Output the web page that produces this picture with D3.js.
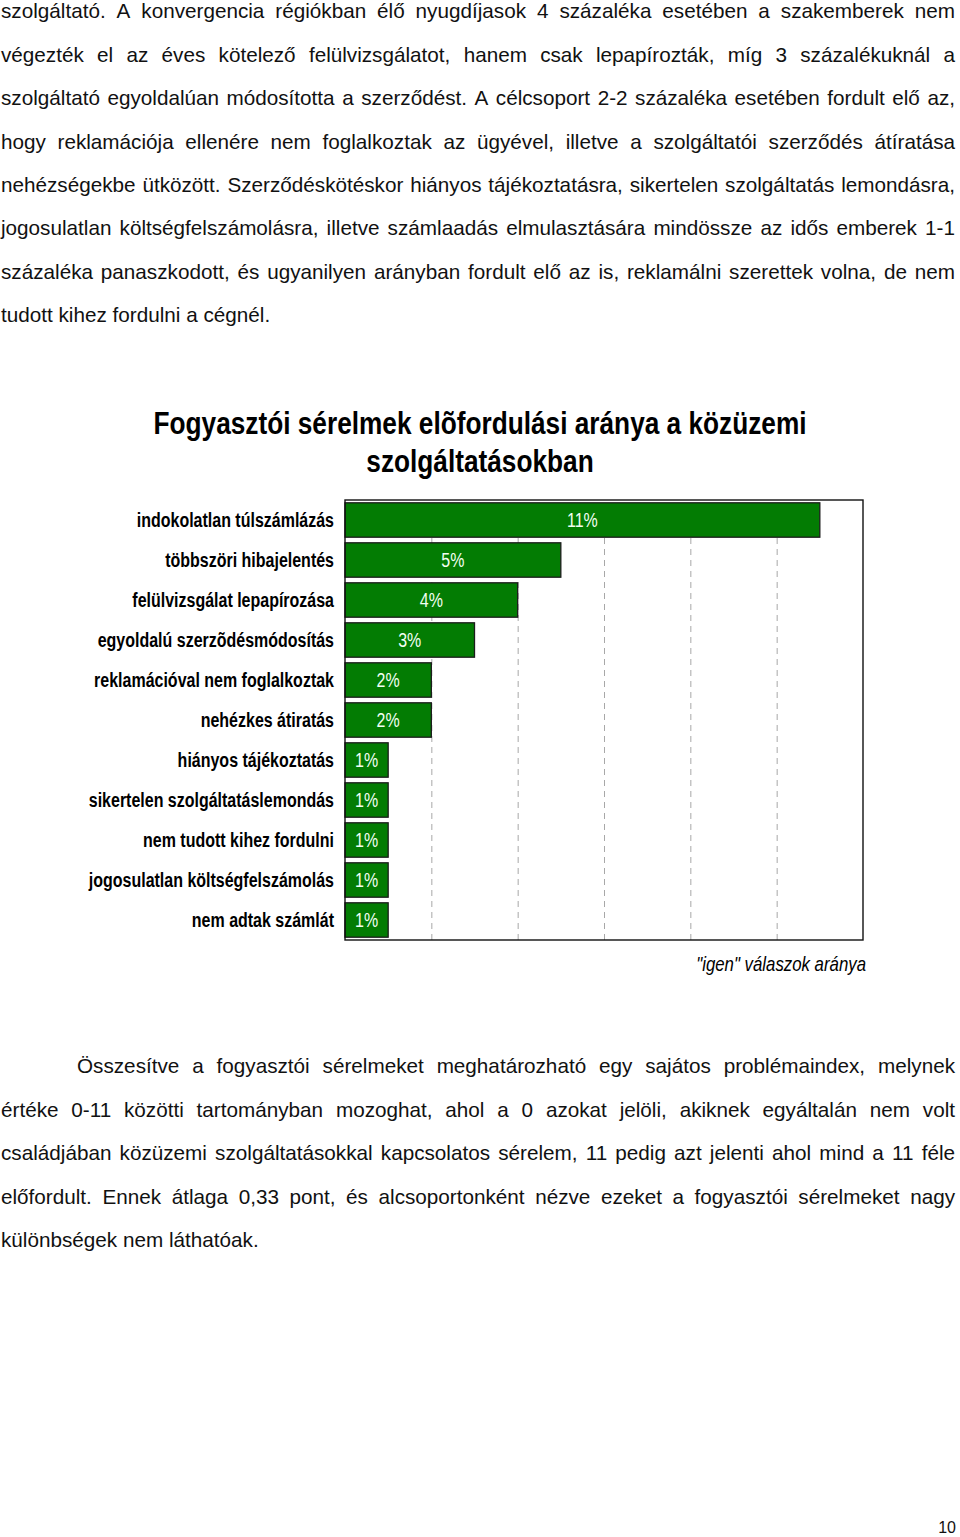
<!DOCTYPE html>
<html>
<head>
<meta charset="utf-8">
<script src="https://cdn.jsdelivr.net/npm/d3@7"></script>
<style>
  html, body { margin: 0; padding: 0; background: #fff; }
  svg { display: block; }
</style>
</head>
<body>
<script>
// ---------------- DATA ----------------
const paragraph1 = [
  "szolgáltató. A konvergencia régiókban élő nyugdíjasok 4 százaléka esetében a szakemberek nem",
  "végezték el az éves kötelező felülvizsgálatot, hanem csak lepapírozták, míg 3 százalékuknál a",
  "szolgáltató egyoldalúan módosította a szerződést. A célcsoport 2-2 százaléka esetében fordult elő az,",
  "hogy reklamációja ellenére nem foglalkoztak az ügyével, illetve a szolgáltatói szerződés átíratása",
  "nehézségekbe ütközött. Szerződéskötéskor hiányos tájékoztatásra, sikertelen szolgáltatás lemondásra,",
  "jogosulatlan költségfelszámolásra, illetve számlaadás elmulasztására mindössze az idős emberek 1-1",
  "százaléka panaszkodott, és ugyanilyen arányban fordult elő az is, reklamálni szerettek volna, de nem",
  "tudott kihez fordulni a cégnél."
];
const paragraph2 = [
  "Összesítve a fogyasztói sérelmeket meghatározható egy sajátos problémaindex, melynek",
  "értéke 0-11 közötti tartományban mozoghat, ahol a 0 azokat jelöli, akiknek egyáltalán nem volt",
  "családjában közüzemi szolgáltatásokkal kapcsolatos sérelem, 11 pedig azt jelenti ahol mind a 11 féle",
  "előfordult. Ennek átlaga 0,33 pont, és alcsoportonként nézve ezeket a fogyasztói sérelmeket nagy",
  "különbségek nem láthatóak."
];
const chartTitle = ["Fogyasztói sérelmek elõfordulási aránya a közüzemi", "szolgáltatásokban"];
const categories = [
  "indokolatlan túlszámlázás",
  "többszöri hibajelentés",
  "felülvizsgálat lepapírozása",
  "egyoldalú szerzõdésmódosítás",
  "reklamációval nem foglalkoztak",
  "nehézkes átiratás",
  "hiányos tájékoztatás",
  "sikertelen szolgáltatáslemondás",
  "nem tudott kihez fordulni",
  "jogosulatlan költségfelszámolás",
  "nem adtak számlát"
];
const values = [11, 5, 4, 3, 2, 2, 1, 1, 1, 1, 1];
const gridTicks = [2, 4, 6, 8, 10];
const axisMax = 12;
const axisTitle = "\"igen\" válaszok aránya";
const pageNumber = "10";

// ---------------- SETUP ----------------
const W = 960, H = 1537;
const svg = d3.select("body").append("svg").attr("width", W).attr("height", H)
  .style("background", "#fff");

// narrow font detection
function fontAvailable(name) {
  const c = document.createElement("canvas").getContext("2d");
  const s = "abcdefghijklmnopqrstuvwxyz0123456789";
  c.font = "40px monospace"; const a = c.measureText(s).width;
  c.font = `40px "${name}", monospace`; const b = c.measureText(s).width;
  c.font = "40px serif"; const a2 = c.measureText(s).width;
  c.font = `40px "${name}", serif`; const b2 = c.measureText(s).width;
  return a !== b || a2 !== b2;
}
const hasNarrow = fontAvailable("Liberation Sans Narrow");
const narrowFamily = hasNarrow ? "'Liberation Sans Narrow', 'Arial Narrow', sans-serif" : "'Liberation Sans', Arial, sans-serif";
const narrowScale = hasNarrow ? 1 : 0.82;

function narrowText(parent, x, y, txt, size, opts = {}) {
  return parent.append("text")
    .attr("transform", `translate(${x},${y}) scale(${narrowScale},1)`)
    .attr("x", 0).attr("y", 0)
    .attr("text-anchor", opts.anchor || "start")
    .attr("font-family", narrowFamily)
    .attr("font-size", size)
    .attr("font-weight", opts.weight || "normal")
    .attr("font-style", opts.style || "normal")
    .attr("fill", opts.fill || "#000")
    .text(txt);
}

// ---------------- BODY TEXT (justified) ----------------
const bodyFont = "'Liberation Sans', Arial, sans-serif";
const bodySize = 20.7;
const textRight = 955;
const measurer = svg.append("text").attr("font-family", bodyFont).attr("font-size", bodySize)
  .attr("x", -1000).attr("y", -1000);
function measure(s) { measurer.text(s); return measurer.node().getComputedTextLength(); }
const spaceW = measure("a b") - measure("ab");

function drawParagraph(lines, firstBaseline, lineGap, indent, leftX) {
  lines.forEach((ln, i) => {
    const y = firstBaseline + i * lineGap;
    const x0 = leftX + (i === 0 ? indent : 0);
    const last = i === lines.length - 1;
    const words = ln.split(" ");
    const widths = words.map(measure);
    const total = d3.sum(widths);
    const gap = (last || words.length < 2) ? spaceW : (textRight - x0 - total) / (words.length - 1);
    const t = svg.append("text").attr("y", y)
      .attr("font-family", bodyFont).attr("font-size", bodySize).attr("fill", "#111");
    let x = x0;
    words.forEach((w, j) => {
      t.append("tspan").attr("x", x).attr("y", y).text(w);
      x += widths[j] + gap;
    });
  });
}
drawParagraph(paragraph1, 18.3, 43.4, 0, 1);
drawParagraph(paragraph2, 1073.3, 43.5, 76, 1);
measurer.remove();

// page number
svg.append("text").attr("x", 956).attr("y", 1533).attr("text-anchor", "end")
  .attr("font-family", bodyFont).attr("font-size", 16).attr("fill", "#111").text(pageNumber);

// ---------------- CHART ----------------
const plot = { left: 345, right: 863, top: 500, bottom: 940 };
const x = d3.scaleLinear().domain([0, axisMax]).range([plot.left, plot.right]);
const y = d3.scaleBand().domain(categories).range([plot.top, plot.bottom])
  .paddingInner(0.14).paddingOuter(0.07);

// title
chartTitle.forEach((line, i) => {
  narrowText(svg, 480, 433.5 + i * 38, line, 32, { anchor: "middle", weight: "bold", fill: "#000" });
});

// gridlines
const grid = svg.append("g").attr("transform", `translate(0,${plot.bottom})`)
  .call(d3.axisBottom(x).tickValues(gridTicks).tickSize(-(plot.bottom - plot.top)).tickFormat(""));
grid.select(".domain").remove();
grid.selectAll(".tick line").attr("stroke", "#a8a8a8").attr("stroke-width", 1)
  .attr("stroke-dasharray", "6,5");

// bars
svg.append("g").selectAll("rect").data(categories).join("rect")
  .attr("x", x(0))
  .attr("y", d => y(d))
  .attr("width", (d, i) => x(values[i]) - x(0))
  .attr("height", y.bandwidth())
  .attr("fill", "#037c03")
  .attr("stroke", "#1c1c1c")
  .attr("stroke-width", 1.3);

// value labels
const vl = svg.append("g");
categories.forEach((c, i) => {
  narrowText(vl, (x(0) + x(values[i])) / 2, y(c) + y.bandwidth() / 2 + 7, values[i] + "%", 19.5,
    { anchor: "middle", fill: "#f2fff2" });
});

// category labels
const cl = svg.append("g");
categories.forEach(c => {
  narrowText(cl, 334, y(c) + y.bandwidth() / 2 + 6.8, c, 19.5, { anchor: "end", weight: "bold" });
});

// plot frame
svg.append("rect").attr("x", plot.left).attr("y", plot.top)
  .attr("width", plot.right - plot.left).attr("height", plot.bottom - plot.top)
  .attr("fill", "none").attr("stroke", "#111").attr("stroke-width", 1.4);

// axis title
narrowText(svg, 866, 970.5, axisTitle, 20.5, { anchor: "end", style: "italic" });
</script>
</body>
</html>
